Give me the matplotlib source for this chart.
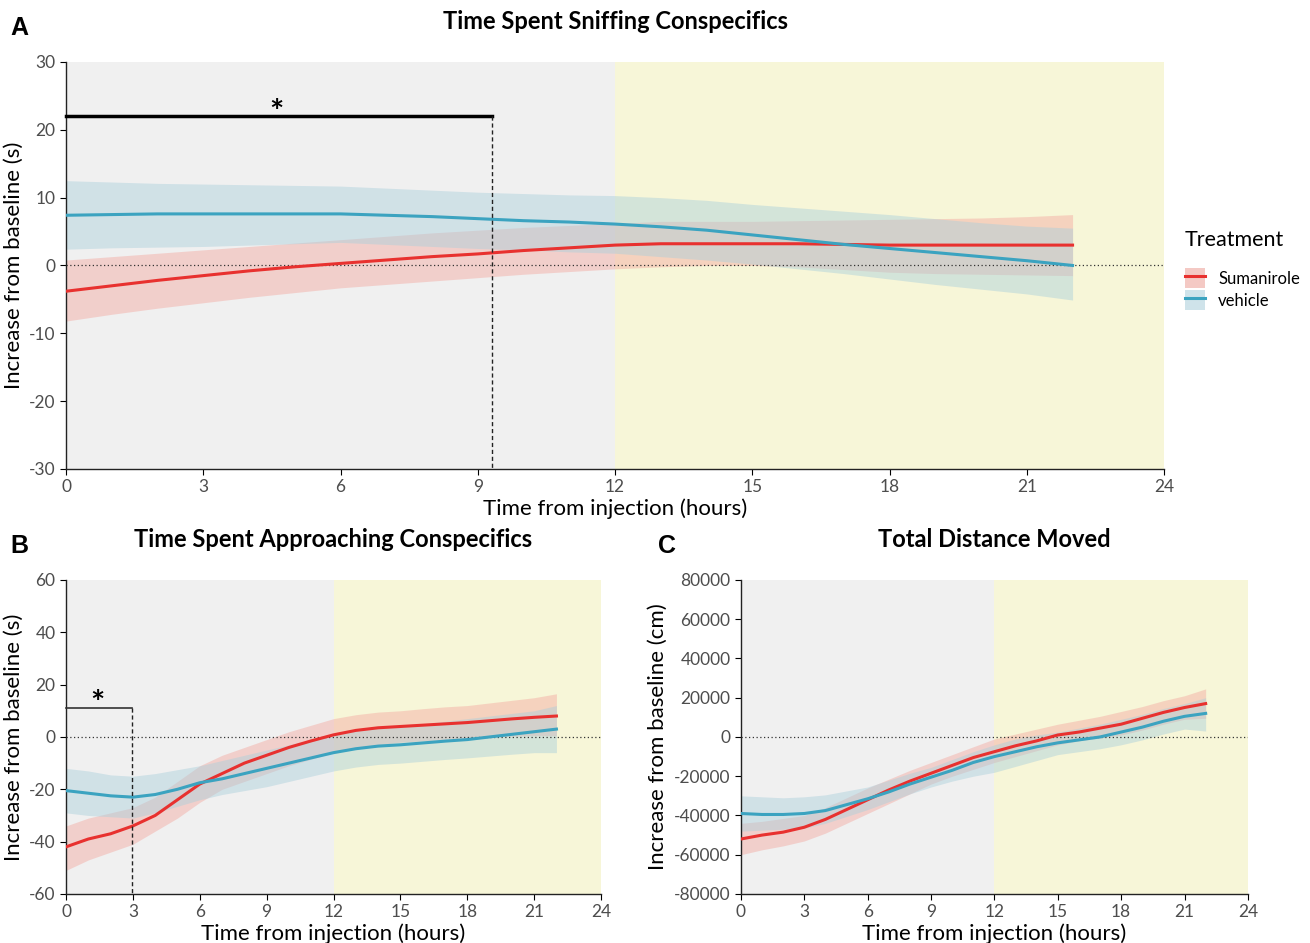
import numpy as np
import matplotlib
matplotlib.use("Agg")
import matplotlib.pyplot as plt
from matplotlib.patches import Patch
from matplotlib.lines import Line2D

plt.rcParams['font.family'] = ['Lato', 'DejaVu Sans']
plt.rcParams['axes.unicode_minus'] = False

# --- data ---
hrs = [0, 1, 2, 3, 4, 5, 6, 7, 8, 9, 10, 11, 12, 13, 14, 15, 16, 17, 18, 19, 20, 21, 22]

# A: time spent sniffing (s)
a_sum = [-3.8, -3.0, -2.2, -1.5, -0.8, -0.2, 0.3, 0.8, 1.3, 1.7, 2.2, 2.6, 3.0, 3.2, 3.2, 3.2, 3.2, 3.1, 3.0, 3.0, 3.0, 3.0, 3.0]
a_sum_lo = [-8.2, -7.2, -6.3, -5.5, -4.7, -4.0, -3.3, -2.8, -2.3, -1.8, -1.3, -0.9, -0.5, -0.2, 0.0, 0.0, -0.2, -0.6, -1.0, -1.2, -1.3, -1.4, -1.5]
a_sum_hi = [0.8, 1.3, 1.8, 2.3, 2.8, 3.3, 3.8, 4.3, 4.8, 5.2, 5.6, 5.9, 6.2, 6.5, 6.5, 6.5, 6.6, 6.7, 6.8, 6.9, 7.0, 7.2, 7.5]
a_veh = [7.4, 7.5, 7.6, 7.6, 7.6, 7.6, 7.6, 7.4, 7.2, 6.9, 6.6, 6.4, 6.1, 5.7, 5.2, 4.5, 3.8, 3.1, 2.5, 1.9, 1.3, 0.7, 0.0]
a_veh_lo = [2.4, 2.6, 2.7, 2.8, 3.0, 3.2, 3.4, 3.1, 2.8, 2.5, 2.3, 2.0, 1.8, 1.3, 0.8, 0.2, -0.5, -1.2, -2.0, -2.8, -3.5, -4.2, -5.1]
a_veh_hi = [12.5, 12.3, 12.1, 12.0, 11.9, 11.8, 11.7, 11.4, 11.1, 10.8, 10.6, 10.4, 10.3, 10.0, 9.6, 9.0, 8.5, 8.0, 7.5, 6.9, 6.3, 5.8, 5.5]

# B: time spent approaching (s)
b_sum = [-42, -39, -37, -34, -30, -24, -18, -14, -10, -7, -4, -1.5, 0.8, 2.5, 3.5, 4, 4.5, 5, 5.5, 6.2, 6.9, 7.5, 8]
b_sum_lo = [-51, -47, -44, -41, -36, -31, -25, -20, -17, -14, -11, -8.5, -6, -4, -3, -2, -1.5, -1, -0.5, 0, 0.3, 0.5, 0.5]
b_sum_hi = [-34, -31, -29, -27, -23, -17, -11, -7, -4, -1, 2, 4.5, 7, 8.5, 9.5, 10, 10.8, 11.5, 12, 13, 14, 15, 16.5]
b_veh = [-20.5, -21.5, -22.5, -23, -22, -20, -17.5, -16, -14, -12, -10, -8, -6, -4.5, -3.5, -3, -2.3, -1.6, -1, 0, 1, 2, 3]
b_veh_lo = [-29, -30, -30.5, -31, -29, -26.5, -24, -22, -20.5, -19, -17, -15, -13, -11.5, -10.5, -10, -9.3, -8.6, -8, -7.3, -6.6, -6, -6]
b_veh_hi = [-12, -13, -14.5, -15, -14, -12.5, -11, -9, -7, -5, -3, -1, 1, 2.5, 3.5, 4, 5, 6, 7, 8, 9, 10, 12]

# C: total distance moved (cm)
c_sum = [-52000, -50000, -48500, -46000, -42000, -37000, -32000, -27000, -22500, -18500, -14500, -10500, -7500, -4500, -2000, 1000, 2500, 4500, 6500, 9500, 12500, 15000, 17000]
c_sum_lo = [-60000, -57500, -55500, -53000, -49000, -44000, -39000, -34000, -29000, -24000, -20000, -16500, -13000, -10000, -7000, -4000, -2000, -500, 1000, 3500, 6500, 9000, 9500]
c_sum_hi = [-44000, -43000, -41500, -40000, -36000, -31000, -26000, -21500, -17000, -13000, -9000, -5000, -1000, 1500, 4000, 6500, 8500, 10500, 13000, 15500, 18500, 21000, 24500]
c_veh = [-39000, -39500, -39500, -39000, -37500, -34500, -31500, -28000, -24000, -20500, -17000, -13000, -10000, -7500, -5000, -3000, -1500, 0, 2500, 5000, 8000, 10500, 12000]
c_veh_lo = [-48000, -47500, -47000, -46500, -44000, -40500, -37000, -33000, -29000, -25500, -22500, -20000, -18000, -15000, -12000, -9000, -7500, -6000, -4000, -1500, 1500, 4000, 3000]
c_veh_hi = [-30000, -30500, -31000, -30500, -29500, -27500, -25500, -22000, -18500, -15500, -11500, -7500, -4000, -1000, 1000, 2500, 4500, 6500, 9000, 11500, 14500, 17000, 20000]

RED = '#e8312f'
BLUE = '#3ba3c0'
GREY_BG = '#f0f0f0'
YEL_BG = '#f7f6d8'
TICK = '#4d4d4d'

fig = plt.figure(figsize=(13.10, 9.43), dpi=100)
axA = fig.add_axes([0.0504, 0.5027, 0.8382, 0.4316])
axB = fig.add_axes([0.0504, 0.0520, 0.4084, 0.3330])
axC = fig.add_axes([0.5656, 0.0520, 0.3870, 0.3330])


def panel(ax, s, slo, shi, v, vlo, vhi, ylim, yticks, ylabel, title):
    ax.axvspan(0, 12, color=GREY_BG, lw=0, zorder=0)
    ax.axvspan(12, 24, color=YEL_BG, lw=0, zorder=0)
    ax.fill_between(hrs, slo, shi, color='#f4a8a0', alpha=0.45, lw=0, zorder=1)
    ax.fill_between(hrs, vlo, vhi, color='#a9cfdc', alpha=0.45, lw=0, zorder=1)
    ax.axhline(0, color='#333333', lw=0.9, ls=(0, (1, 2)), zorder=2)
    ax.plot(hrs, s, color=RED, lw=2.2, zorder=3)
    ax.plot(hrs, v, color=BLUE, lw=2.2, zorder=3)
    ax.set_xlim(0, 24)
    ax.set_ylim(*ylim)
    ax.set_xticks(range(0, 25, 3))
    ax.set_yticks(yticks)
    ax.tick_params(colors=TICK, labelsize=12.5, length=4, width=0.8)
    ax.tick_params(axis='both', color='black')
    for sp in ['top', 'right']:
        ax.spines[sp].set_visible(False)
    for sp in ['left', 'bottom']:
        ax.spines[sp].set_color('#222222')
        ax.spines[sp].set_linewidth(1.0)
    ax.set_xlabel('Time from injection (hours)', fontsize=16, labelpad=2)
    ax.set_ylabel(ylabel, fontsize=16, labelpad=4)
    ax.set_title(title, fontsize=17, fontweight='bold', pad=24)


panel(axA, a_sum, a_sum_lo, a_sum_hi, a_veh, a_veh_lo, a_veh_hi,
      (-30, 30), range(-30, 31, 10), 'Increase from baseline (s)',
      'Time Spent Sniffing Conspecifics')
panel(axB, b_sum, b_sum_lo, b_sum_hi, b_veh, b_veh_lo, b_veh_hi,
      (-60, 60), range(-60, 61, 20), 'Increase from baseline (s)',
      'Time Spent Approaching Conspecifics')
panel(axC, c_sum, c_sum_lo, c_sum_hi, c_veh, c_veh_lo, c_veh_hi,
      (-80000, 80000), range(-80000, 80001, 20000), 'Increase from baseline (cm)',
      'Total Distance Moved')

# significance brackets
axA.plot([0, 9.3], [22, 22], color='black', lw=2.5, zorder=4, clip_on=False)
axA.plot([9.3, 9.3], [22, -30], color='#222222', lw=1, ls=(0, (3, 2)), zorder=4)
axA.text(4.6, 20.2, '*', fontsize=24, fontweight='bold', ha='center', va='bottom')

axB.plot([0, 2.95], [11, 11], color='#333333', lw=1.2, zorder=4, clip_on=False)
axB.plot([2.95, 2.95], [11, -60], color='#222222', lw=1, ls=(0, (3, 2)), zorder=4)
axB.text(1.4, 7.0, '*', fontsize=24, fontweight='bold', ha='center', va='bottom')

# panel letters
for txt, x, y in [('A', 0.008, 0.963), ('B', 0.008, 0.414), ('C', 0.502, 0.414)]:
    fig.text(x, y, txt, fontsize=18, fontweight='bold', family='Liberation Sans')

# legend
handles = [(Patch(facecolor='#f4c9c4', edgecolor='none'), Line2D([], [], color=RED, lw=2.2)),
           (Patch(facecolor='#cfe3ea', edgecolor='none'), Line2D([], [], color=BLUE, lw=2.2))]
leg = fig.legend(handles, ['Sumanirole', 'vehicle'], title='Treatment',
                 loc='upper left', bbox_to_anchor=(0.893, 0.772), frameon=False,
                 fontsize=12, title_fontsize=15.5, handlelength=1.2, handleheight=1.5,
                 handletextpad=0.8, labelspacing=0.1)
leg._legend_box.align = 'left'
leg._legend_box.sep = 13

fig.savefig('out.png', dpi=100)
